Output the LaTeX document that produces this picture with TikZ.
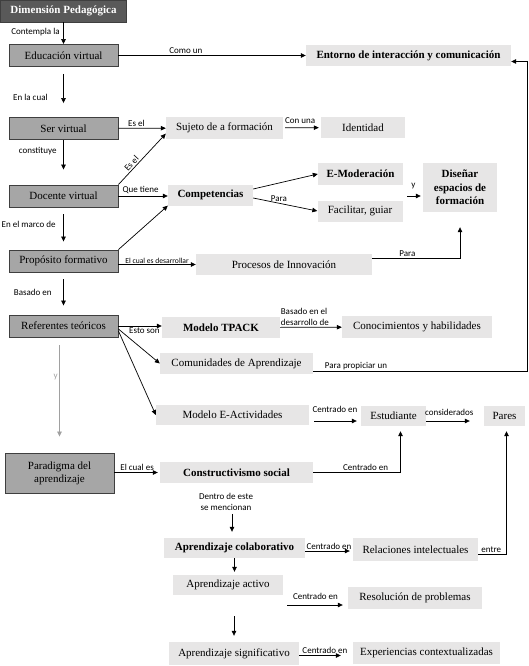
\documentclass[tikz,border=0pt]{standalone}
\usepackage{fontspec}
\setmainfont{Liberation Serif}
\newfontfamily\lblfont{Carlito}
\usepackage{tikz}
\usetikzlibrary{arrows.meta}
\definecolor{HeadGray}{HTML}{595959}
\definecolor{SideGray}{HTML}{A6A6A6}
\definecolor{SoftGray}{HTML}{E7E6E6}
\definecolor{EdgeGray}{HTML}{3F3F3F}
\definecolor{FaintGray}{HTML}{A0A0A0}

\begin{document}
\begin{tikzpicture}[
  x=1pt, y=-1pt,
  headbox/.style={draw=EdgeGray, line width=0.9pt, fill=HeadGray, text=white, font=\fontsize{11}{13}\selectfont\bfseries, minimum width=126pt, minimum height=22pt, inner sep=1pt},
  sidebox/.style={draw=EdgeGray, line width=0.9pt, fill=SideGray, align=center, font=\fontsize{11}{13}\selectfont, minimum width=109pt, minimum height=22pt, inner sep=1pt},
  softbox/.style={fill=SoftGray, align=center, font=\fontsize{11}{13.5}\selectfont, minimum height=21pt, inner sep=1pt},
  boldbox/.style={softbox, font=\fontsize{11}{13.5}\selectfont\bfseries},
  flow/.style={-{Triangle[length=5pt,width=4.5pt]}, line width=0.7pt},
  lbl/.style={font=\lblfont\fontsize{9}{11}\selectfont, inner sep=1.5pt}
]
\useasboundingbox (0,0) rectangle (528,666);
\node[headbox] (dim) at (63.5,11) {Dimensión Pedagógica};
\node[sidebox] (edu) at (63.5,55.5) {Educación virtual};
\node[sidebox] (ser) at (63.5,128.5) {Ser virtual};
\node[sidebox] (doc) at (63.5,196) {Docente virtual};
\node[sidebox] (prop) at (63.5,261) {Propósito formativo};
\node[sidebox] (ref) at (63.5,326) {Referentes teóricos};
\node[sidebox, minimum height=40pt] (para) at (59.5,473) {Paradigma del\\aprendizaje};
\node[boldbox, minimum width=205pt] (ent) at (408.5,55.5) {Entorno de interacción y comunicación};
\node[softbox, minimum width=117pt] (suj) at (224.5,128) {Sujeto de a formación};
\node[softbox, minimum width=84pt] (ident) at (363,127.5) {Identidad};
\node[boldbox, minimum width=85pt] (comp) at (210.5,195) {Competencias};
\node[boldbox, minimum width=85pt, minimum height=22pt] (emod) at (360.5,174) {E-Moderación};
\node[softbox, minimum width=85pt] (facil) at (360,211) {Facilitar, guiar};
\node[boldbox, minimum width=74pt, minimum height=49pt] (dis) at (460,187.5) {Diseñar\\espacios de\\formación};
\node[softbox, minimum width=176pt] (proc) at (284,264.5) {Procesos de Innovación};
\node[boldbox, minimum width=118pt] (tpack) at (221,327.5) {Modelo TPACK};
\node[softbox, minimum width=150pt, minimum height=22pt] (conoc) at (417,327) {Conocimientos y habilidades};
\node[softbox, minimum width=153pt] (comu) at (236.5,363.5) {Comunidades de Aprendizaje};
\node[softbox, minimum width=153pt, minimum height=20pt] (eact) at (232.5,415) {Modelo E-Actividades};
\node[softbox, minimum width=65pt, minimum height=20pt] (estu) at (393.5,416) {Estudiante};
\node[softbox, minimum width=41pt, minimum height=20pt] (pares) at (504.5,416) {Pares};
\node[boldbox, minimum width=153pt] (cons) at (236.5,472.5) {Constructivismo social};
\node[lbl, align=center] (dentro) at (226,501.5) {Dentro de este\\se mencionan};
\node[boldbox, minimum width=141pt, minimum height=20pt] (colab) at (234.5,548) {Aprendizaje colaborativo};
\node[softbox, minimum width=125pt, minimum height=23pt] (relac) at (415.5,549.5) {Relaciones intelectuales};
\node[softbox, minimum width=110pt, minimum height=20pt] (activo) at (228,585) {Aprendizaje activo};
\node[softbox, minimum width=134pt, minimum height=22pt] (resol) at (415,598) {Resolución de problemas};
\node[softbox, minimum width=130pt, minimum height=23pt] (sig) at (234,653.5) {Aprendizaje significativo};
\node[softbox, minimum width=147pt, minimum height=22pt] (exper) at (426.5,653) {Experiencias contextualizadas};
\coordinate (ymid) at (407,196);
\coordinate (rs) at ([yshift=-7pt]resol.west);
\draw[flow] (dim) -- node[lbl, left=2pt, pos=0.45] {Contempla la} (edu);
\draw[flow] (edu) -- node[lbl, above, pos=0.36] {Como un} (ent);
\draw[flow, shorten <=7pt, shorten >=14pt] (edu) -- node[lbl, left=14pt, pos=0.6] {En la cual} (ser);
\draw[flow] (ser) -- node[lbl, above, pos=0.38] {Es el} (suj);
\draw[flow, shorten <=2pt, shorten >=2pt] (suj) -- node[lbl, above=2pt, pos=0.45] {Con una} (ident);
\draw[flow, shorten >=15pt] (ser) -- node[lbl, left=5pt, pos=0.24] {constituye} (doc);
\draw[flow] (doc.north east) -- node[lbl, sloped, above, pos=0.35] {Es el} ([yshift=5pt]suj.south west);
\draw[flow] (doc) -- node[lbl, above, pos=0.45] {Que tiene} (doc -| comp.west);
\draw[flow, shorten <=7pt, shorten >=8pt] (doc) -- node[lbl, left=6pt, pos=0.4] {En el marco de} (prop);
\draw[flow] (prop.north east) -- (comp.south west);
\draw[flow] (prop.east |- proc) -- node[lbl, above, inner sep=0.5pt, font=\lblfont\fontsize{7.6}{8}\selectfont] {El cual es desarrollar} (proc);
\draw[flow, shorten >=15pt] ([yshift=6pt]proc.east) -| node[lbl, above, pos=0.2] {Para} (dis.south);
\draw[flow] ([yshift=6pt]comp.east) -- (emod.west);
\draw[flow] ([yshift=-3pt]comp.east) -- node[lbl, above, pos=0.4] {Para} (facil.west);
\draw[flow, shorten >=2pt] (ymid) -- node[lbl, above=5pt, pos=0.4] {y} (ymid -| dis.west);
\draw[flow, shorten <=7pt, shorten >=9pt] (prop) -- node[lbl, left=10pt, pos=0.47] {Basado en} (ref);
\draw[flow] (ref) -- node[lbl, below, pos=0.6] {Esto son} (ref -| tpack.west);
\draw[flow] ([yshift=-3pt]ref.east) -- (comu.west);
\draw[flow] ([yshift=-5pt]ref.east) -- (eact.west);
\draw[flow] (tpack) -- node[lbl, above, align=left, pos=0.4] {Basado en el\\desarrollo de} (conoc);
\draw[flow] ([yshift=-8pt]comu.east) -| node[lbl, above, pos=0.1] {Para propiciar un} ([xshift=16pt,yshift=-6pt]ent.east) -- ([yshift=-6pt]ent.east);
\draw[flow, FaintGray, shorten <=8pt, shorten >=16pt] (ref.south -| para.north) -- node[lbl, left=0pt, pos=0.34, text=FaintGray] {y} (para.north);
\draw[flow, shorten <=5pt, shorten >=4pt] ([yshift=-6pt]eact.east) -- node[lbl, above=7pt, pos=0.5] {Centrado en} ([yshift=-6pt]eact.east -| estu.west);
\draw[flow, shorten >=14pt] ([yshift=-5pt]estu.east) -- node[lbl, above=4pt, pos=0.4] {considerados} ([yshift=-5pt]estu.east -| pares.west);
\draw[flow, shorten >=5pt] (cons.east) -| node[lbl, above, pos=0.3] {Centrado en} ([xshift=7pt]estu.south);
\draw[flow, shorten >=2pt] (para.east |- cons.west) -- node[lbl, above, pos=0.5] {El cual es} (cons.west);
\draw[flow, shorten <=2pt, shorten >=6pt] ([xshift=6pt]dentro.south) -- ([xshift=6pt]dentro.south |- colab.north);
\draw[flow, shorten >=3pt] ([yshift=-3pt]colab.east) -- node[lbl, above, pos=0.5] {Centrado en} ([yshift=-3pt]colab.east -| relac.west);
\draw[flow, shorten >=5pt] ([yshift=-5pt]relac.east) -| node[lbl, above, pos=0.23] {entre} ([xshift=2pt]pares.south);
\draw[flow, shorten >=3pt] (colab.south) -- (colab.south |- activo.north);
\draw[flow, shorten <=21pt, shorten >=6pt] (sig.north |- activo.south) -- (sig.north);
\draw[flow, shorten <=4pt, shorten >=5pt] (rs -| activo.east) -- node[lbl, above=4pt] {Centrado en} (rs);
\draw[flow, shorten >=12pt] ([yshift=-2pt]sig.east) -- node[lbl, above, pos=0.48] {Centrado en} ([yshift=-2pt]sig.east -| exper.west);
\end{tikzpicture}
\end{document}
